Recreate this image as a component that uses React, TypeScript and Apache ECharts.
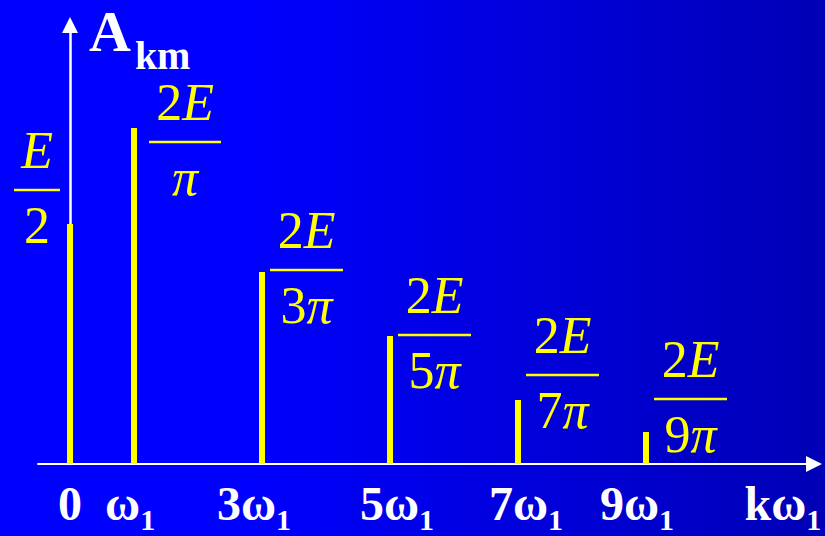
import React, { useEffect, useRef } from "react";
import * as echarts from "echarts";

// Harmonic index k of each spectral line and its drawn height
const harmonics = [0, 1, 3, 5, 7, 9];
const amplitudes = [7.5, 10.5, 6, 4, 2, 1];

// Fraction printed beside each line: numerator over denominator
const numerators = ["{i|E}", "{u|2}{i|E}", "{u|2}{i|E}", "{u|2}{i|E}", "{u|2}{i|E}", "{u|2}{i|E}"];
const denominators = ["{u|2}", "{i|π}", "{u|3}{i|π}", "{u|5}{i|π}", "{u|7}{i|π}", "{u|9}{i|π}"];

// Frequency-axis labels and where they sit on the k scale
const tickTexts = ["{m|0}", "{m|ω}{s|1}", "{m|3ω}{s|1}", "{m|5ω}{s|1}", "{m|7ω}{s|1}", "{m|9ω}{s|1}", "{m|kω}{s|1}"];
const tickValues = [0, 0.94, 2.875, 5.11, 7.125, 8.86, 11.14];

// Placement of each fraction relative to the top of its line (px): centre x, rule y, rule width
const fracDx = [-33, 51, 44.5, 44.5, 44.5, 44.5];
const fracDy = [-34, 14, -2, -1, -25, -33];
const fracW = [46, 72, 73, 73, 73, 73];

const SERIF = "'Liberation Serif', 'Times New Roman', serif";
const YELLOW = "#FFFF00";

export default function App() {
  const ref = useRef<HTMLDivElement>(null);

  useEffect(() => {
    if (!ref.current) return;
    const chart = echarts.init(ref.current, null, { renderer: "svg" });

    const fracRich = {
      u: { fontFamily: SERIF, fontSize: 52, fill: YELLOW },
      i: { fontFamily: SERIF, fontSize: 52, fontStyle: "italic", fill: YELLOW },
    };

    chart.setOption({
      animation: false,
      backgroundColor: new echarts.graphic.LinearGradient(0, 0, 1, 0, [
        { offset: 0, color: "#0000FF" },
        { offset: 0.3, color: "#0000FF" },
        { offset: 1, color: "#0000B6" },
      ]),
      title: {
        text: "{a|A}{s|km}",
        left: 84,
        top: -3,
        textStyle: {
          rich: {
            a: { fontFamily: SERIF, fontSize: 58, fontWeight: "bold", color: "#FFFFFF" },
            s: { fontFamily: SERIF, fontSize: 40, fontWeight: "bold", color: "#FFFFFF", padding: [0, 0, -48, 4] },
          },
        },
      },
      grid: { left: 38, right: 11, top: 25, bottom: 72, containLabel: false },
      xAxis: {
        type: "value",
        min: -0.5,
        max: 11.625,
        splitLine: { show: false },
        axisTick: { show: false },
        axisLine: {
          show: true,
          lineStyle: { color: "#FFFFFF", width: 2 },
          symbol: ["none", "triangle"],
          symbolSize: [16, 16],
        },
        axisLabel: {
          customValues: tickValues,
          margin: 15,
          formatter: (v: number) => {
            const i = tickValues.indexOf(v);
            return i >= 0 ? tickTexts[i] : "";
          },
          rich: {
            m: { fontFamily: SERIF, fontSize: 48, fontWeight: "bold", color: "#FFFFFF" },
            s: { fontFamily: SERIF, fontSize: 30, fontWeight: "bold", color: "#FFFFFF", padding: [0, 0, -32, 0] },
          },
        },
      },
      yAxis: {
        type: "value",
        min: 0,
        max: 13.72,
        splitLine: { show: false },
        axisTick: { show: false },
        axisLabel: { show: false },
        axisLine: {
          show: true,
          onZero: true,
          lineStyle: { color: "#FFFFFF", width: 2.5 },
          symbol: ["none", "triangle"],
          symbolSize: [16, 16],
        },
      },
      series: [
        {
          type: "bar",
          data: harmonics.map((k, i) => [k, amplitudes[i]]),
          barWidth: 6,
          itemStyle: { color: YELLOW },
          z: 3,
        },
        {
          type: "custom",
          data: harmonics.map((k, i) => [k, amplitudes[i]]),
          z: 4,
          renderItem: (params: any, api: any) => {
            const i = params.dataIndex;
            const top = api.coord([api.value(0), api.value(1)]);
            const cx = top[0] + fracDx[i];
            const ly = top[1] + fracDy[i];
            const w = fracW[i];
            return {
              type: "group",
              children: [
                {
                  type: "line",
                  shape: { x1: cx - w / 2, y1: ly, x2: cx + w / 2, y2: ly },
                  style: { stroke: YELLOW, lineWidth: 2.5 },
                },
                {
                  type: "text",
                  x: cx,
                  y: ly - 40,
                  style: {
                    text: numerators[i],
                    fill: YELLOW,
                    align: "center",
                    verticalAlign: "middle",
                    rich: fracRich,
                  },
                },
                {
                  type: "text",
                  x: cx,
                  y: ly + 35,
                  style: {
                    text: denominators[i],
                    fill: YELLOW,
                    align: "center",
                    verticalAlign: "middle",
                    rich: fracRich,
                  },
                },
              ],
            };
          },
        },
      ],
    });

    return () => chart.dispose();
  }, []);

  return (
    <div
      ref={ref}
      style={{ position: "absolute", left: 0, top: 0, width: 825, height: 536 }}
    />
  );
}
